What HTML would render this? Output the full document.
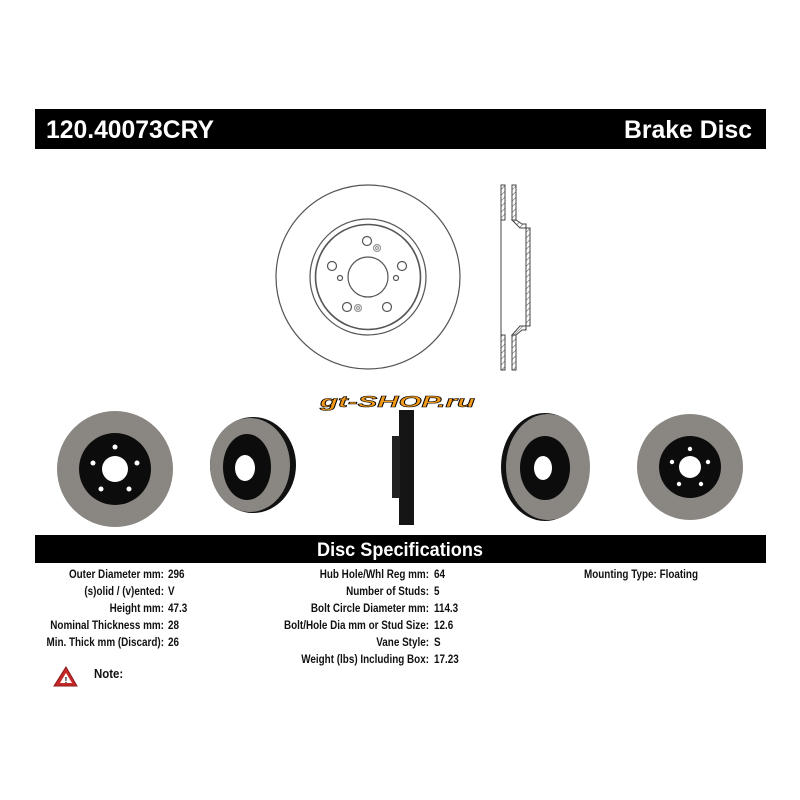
<!DOCTYPE html>
<html><head><meta charset="utf-8"><style>
html,body{margin:0;padding:0;background:#fff;width:800px;height:800px;overflow:hidden}
svg text{font-family:"Liberation Sans",Arial,sans-serif;font-weight:bold}
</style></head><body>
<svg width="800" height="800" viewBox="0 0 800 800" xmlns="http://www.w3.org/2000/svg">
<defs>
<pattern id="h" width="4" height="4" patternUnits="userSpaceOnUse" patternTransform="rotate(45)"><rect width="4" height="4" fill="#fff"/><line x1="0" y1="0" x2="0" y2="4" stroke="#666" stroke-width="1.2"/></pattern>
</defs>
<rect x="35" y="109" width="731" height="40" fill="#000"/>
<text x="46" y="138" fill="#fff" font-size="25" textLength="168" lengthAdjust="spacingAndGlyphs">120.40073CRY</text>
<text x="752" y="138" fill="#fff" font-size="25" text-anchor="end" textLength="128" lengthAdjust="spacingAndGlyphs">Brake Disc</text>

<g fill="none" stroke="#555" stroke-width="1.2">
<circle cx="368" cy="277" r="92"/>
<circle cx="368" cy="277" r="58"/>
<circle cx="368" cy="277" r="52.5" stroke-width="1.6"/>
<circle cx="368" cy="277" r="20"/>
<circle cx="367" cy="241" r="4.5"/><circle cx="332" cy="266" r="4.5"/><circle cx="402" cy="266" r="4.5"/>
<circle cx="347" cy="307" r="4.5"/><circle cx="387" cy="307" r="4.5"/>
<circle cx="340" cy="278" r="2.5"/><circle cx="396" cy="278" r="2.5"/>
<circle cx="377" cy="248" r="3.5" stroke="#999"/><circle cx="377" cy="248" r="1.5" stroke="#999"/>
<circle cx="358" cy="308" r="3.5" stroke="#999"/><circle cx="358" cy="308" r="1.5" stroke="#999"/>
</g>
<g stroke="#444" stroke-width="1">
<rect x="501" y="185" width="4" height="35" fill="url(#h)"/>
<rect x="512" y="185" width="4" height="35" fill="url(#h)"/>
<rect x="501" y="335" width="4" height="35" fill="url(#h)"/>
<rect x="512" y="335" width="4" height="35" fill="url(#h)"/>
<path d="M512 220 L520 228 L530 228 L530 326 L520 326 L512 335 L516 335 L522 330 L526 330 L526 224 L522 224 L516 220 Z" fill="url(#h)"/>
<line x1="501" y1="220" x2="501" y2="335"/>
</g>

<text x="320" y="407" font-size="16" font-style="italic" fill="#f39a1a" stroke="#000" stroke-width="0.6" textLength="155" lengthAdjust="spacingAndGlyphs">gt-SHOP.ru</text>

<circle cx="115" cy="469" r="58" fill="#8a8782"/>
<circle cx="115" cy="469" r="36" fill="#0c0c0c"/>
<circle cx="115" cy="469" r="13" fill="#fff"/>
<g fill="#fff"><circle cx="115" cy="447" r="2.5"/><circle cx="93" cy="463" r="2.5"/><circle cx="137" cy="463" r="2.5"/><circle cx="101" cy="489" r="2.5"/><circle cx="129" cy="489" r="2.5"/></g>
<ellipse cx="253" cy="465" rx="43" ry="48" fill="#111"/>
<ellipse cx="250" cy="465" rx="40" ry="47" fill="#8a8782"/>
<ellipse cx="247" cy="467" rx="24" ry="33" fill="#0c0c0c"/>
<ellipse cx="245" cy="468" rx="10" ry="13" fill="#fff"/>
<rect x="399" y="410" width="15" height="115" fill="#151515"/>
<rect x="392" y="436" width="8" height="62" fill="#222"/>
<ellipse cx="545" cy="467" rx="44" ry="54" fill="#111"/>
<ellipse cx="548" cy="467" rx="42" ry="53" fill="#8a8782"/>
<ellipse cx="545" cy="468" rx="25" ry="32" fill="#0c0c0c"/>
<ellipse cx="543" cy="468" rx="9" ry="12" fill="#fff"/>
<circle cx="690" cy="467" r="53" fill="#8a8782"/>
<circle cx="690" cy="467" r="31" fill="#0c0c0c"/>
<circle cx="690" cy="467" r="11" fill="#fff"/>
<g fill="#fff"><circle cx="690" cy="449" r="2.2"/><circle cx="672" cy="462" r="2.2"/><circle cx="708" cy="462" r="2.2"/><circle cx="679" cy="484" r="2.2"/><circle cx="701" cy="484" r="2.2"/></g>

<rect x="35" y="535" width="731" height="28" fill="#000"/>
<text x="400" y="556" fill="#fff" font-size="19" text-anchor="middle" textLength="166" lengthAdjust="spacingAndGlyphs">Disc Specifications</text>

<g font-size="11.5" fill="#111">
<g text-anchor="end" transform="translate(164 0) scale(0.86 1) translate(-164 0)">
<text x="164" y="578">Outer Diameter mm:</text>
<text x="164" y="595">(s)olid / (v)ented:</text>
<text x="164" y="612">Height mm:</text>
<text x="164" y="629">Nominal Thickness mm:</text>
<text x="164" y="646">Min. Thick mm (Discard):</text>
</g>
<g text-anchor="end" transform="translate(429 0) scale(0.86 1) translate(-429 0)">
<text x="429" y="578">Hub Hole/Whl Reg mm:</text>
<text x="429" y="595">Number of Studs:</text>
<text x="429" y="612">Bolt Circle Diameter mm:</text>
<text x="429" y="629">Bolt/Hole Dia mm or Stud Size:</text>
<text x="429" y="646">Vane Style:</text>
<text x="429" y="663">Weight (lbs) Including Box:</text>
</g>
<g transform="translate(168 0) scale(0.86 1) translate(-168 0)">
<text x="168" y="578">296</text><text x="168" y="595">V</text><text x="168" y="612">47.3</text><text x="168" y="629">28</text><text x="168" y="646">26</text>
</g>
<g transform="translate(434 0) scale(0.86 1) translate(-434 0)">
<text x="434" y="578">64</text><text x="434" y="595">5</text><text x="434" y="612">114.3</text><text x="434" y="629">12.6</text><text x="434" y="646">S</text><text x="434" y="663">17.23</text>
</g>
<g transform="translate(584 0) scale(0.86 1) translate(-584 0)">
<text x="584" y="578">Mounting Type: Floating</text>
</g>
</g>
<path d="M66 667 L77 686 L54 686 Z" fill="#c62828" stroke="#8b1a1a"/>
<path d="M66 673 L72 683 L60 683 Z" fill="#fff"/>
<text x="66" y="683" font-size="8" text-anchor="middle" fill="#000">!</text>
<text x="94" y="678" font-size="13" fill="#111" transform="translate(94 0) scale(0.88 1) translate(-94 0)">Note:</text>
</svg>
</body></html>
